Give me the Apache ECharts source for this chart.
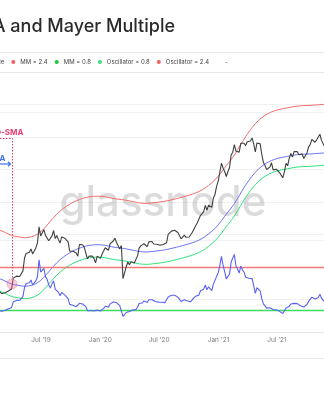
<!DOCTYPE html>
<html>
<head>
<meta charset="utf-8">
<script src="https://cdn.jsdelivr.net/npm/echarts@6/dist/echarts.min.js"></script>
<style>
  html, body { margin: 0; padding: 0; background: #fff; }
  #chart { width: 324px; height: 400px; }
</style>
</head>
<body>
<div id="chart"></div>
<script>
// ---- data: BTC daily close sampled every 5 days, and its 200-day SMA ----
const DAY = 86400000;
const startDate = Date.UTC(2019, 1, 20);
const stepDays = 5;

const btcPrice = [
  3950, 3830, 3820, 3870, 3880, 4000, 4000, 4030, 4150, 5050,
  5050, 5230, 5330, 5200, 5350, 5750, 7250, 7880, 7980, 8050,
  8550, 7800, 8050, 8700, 9530, 12700, 10800, 11000, 12100, 10900,
  10700, 9900, 9600, 10800, 11900, 10300, 10900, 10100, 9500, 10600,
  10400, 10350, 10200, 9700, 8200, 8250, 8200, 8300, 7950, 7500,
  9250, 9300, 9200, 8800, 8500, 7150, 7500, 7300, 7500, 7200,
  6650, 7500, 7250, 7200, 7770, 8050, 8730, 8650, 8340, 9350,
  9600, 9850, 10350, 9600, 9300, 8550, 9100, 5000, 5000, 6200,
  6750, 6420, 6780, 6860, 6640, 6880, 7540, 8660, 9030, 8750,
  9380, 9520, 8900, 9700, 9800, 9770, 9330, 9300, 9300, 9190,
  9130, 9240, 9250, 9200, 9550, 11100, 11230, 11770, 11570, 11950,
  11660, 11490, 11400, 10250, 10440, 10950, 10530, 10750, 10580, 10670,
  11550, 11370, 12990, 13650, 13740, 15590, 15700, 16720, 18700, 17150,
  18790, 19150, 18050, 21300, 22800, 26400, 29000, 33900, 40000, 36700,
  34500, 31500, 34300, 36900, 46400, 48800, 55900, 49700, 49600, 48900,
  57300, 56800, 57300, 55000, 58900, 58700, 59800, 63100, 56400, 49000,
  57700, 57200, 56700, 46800, 40600, 38400, 35700, 36900, 37300, 40500,
  35500, 34700, 35900, 35300, 33800, 32800, 30800, 34300, 40000, 38200,
  43800, 47800, 44700, 49300, 48900, 49300, 46700, 46000, 47300, 43600,
  42200, 48200, 53800, 56000, 61500, 60700, 58400, 61000, 61500, 67500,
  60400, 58600, 53600, 57000
];

const sma200 = [
  5020, 4980, 4920, 4860, 4790, 4720, 4650, 4590, 4540, 4500,
  4470, 4450, 4430, 4410, 4390, 4370, 4360, 4360, 4370, 4390,
  4420, 4460, 4510, 4570, 4640, 4730, 4840, 4970, 5120, 5290,
  5470, 5660, 5860, 6060, 6260, 6460, 6660, 6850, 7030, 7200,
  7370, 7530, 7680, 7830, 7970, 8100, 8230, 8350, 8460, 8560,
  8660, 8750, 8840, 8920, 8990, 9050, 9100, 9140, 9170, 9190,
  9200, 9210, 9210, 9200, 9180, 9150, 9110, 9060, 9000, 8940,
  8880, 8830, 8790, 8760, 8730, 8700, 8670, 8640, 8600, 8550,
  8500, 8450, 8400, 8350, 8300, 8250, 8200, 8160, 8130, 8110,
  8100, 8090, 8090, 8100, 8120, 8150, 8180, 8210, 8240, 8270,
  8300, 8330, 8370, 8410, 8450, 8500, 8560, 8620, 8680, 8740,
  8800, 8860, 8930, 9000, 9070, 9140, 9220, 9300, 9380, 9460,
  9550, 9650, 9760, 9880, 10010, 10150, 10310, 10490, 10700, 10930,
  11180, 11450, 11730, 12030, 12370, 12750, 13180, 13660, 14200, 14780,
  15380, 15980, 16570, 17180, 17830, 18550, 19350, 20250, 21250, 22300,
  23400, 24550, 25750, 26950, 28150, 29350, 30550, 31750, 32900, 34000,
  35050, 36050, 37000, 37900, 38750, 39500, 40200, 40850, 41450, 42000,
  42500, 42950, 43350, 43700, 44000, 44300, 44550, 44800, 45050, 45300,
  45550, 45800, 46050, 46300, 46500, 46700, 46850, 46950, 47050, 47100,
  47150, 47200, 47250, 47300, 47400, 47500, 47600, 47700, 47800, 47900,
  48000, 48100, 48200, 48300
];

// Mayer Multiple band multipliers and oscillator reference levels
const mmUpper = 2.4;
const mmLower = 0.8;
const oscLevels = [0.8, 2.4];

// x-axis tick labels (half-year marks)
const tickMonthNames = { 0: 'Jan', 6: 'Jul' };

const legendNames = ['Mayer Multiple', 'MM = 2.4', 'MM = 0.8', 'Oscillator = 0.8', 'Oscillator = 2.4', '-'];
const titleText = 'Price, 200D-SMA and Mayer Multiple';

// ---- derived series ----
const dates = btcPrice.map((_, i) => startDate + i * stepDays * DAY);
const priceData = dates.map((t, i) => [t, btcPrice[i]]);
const smaData = dates.map((t, i) => [t, sma200[i]]);
const upperData = dates.map((t, i) => [t, sma200[i] * mmUpper]);
const lowerData = dates.map((t, i) => [t, sma200[i] * mmLower]);
// Mayer Multiple = price / 200-day SMA
const mmData = dates.map((t, i) => [t, btcPrice[i] / sma200[i]]);
const tFirst = dates[0], tLast = dates[dates.length - 1];

// visible time window
const xMin = Date.UTC(2019, 1, 24);
const xMax = Date.UTC(2021, 10, 23, 17);

const oscMax = 9.674;

function measure(str, font) {
  const ctx = document.createElement('canvas').getContext('2d');
  ctx.font = font;
  return ctx.measureText(str).width;
}
const legendFontSize = 6;
const legendGap = 7;
const firstW = measure(legendNames[0], legendFontSize + 'px Inter');
const legendLeft = 11.3 - legendGap - 9 - firstW;

const chart = echarts.init(document.getElementById('chart'));

const lineBase = { type: 'line', showSymbol: false, symbol: 'none', animation: false };

chart.setOption({
  animation: false,
  useUTC: true,
  backgroundColor: '#ffffff',
  textStyle: { fontFamily: 'Inter, "Noto Sans", sans-serif' },
  title: {
    text: titleText,
    right: 149,
    top: 18,
    padding: 0,
    textStyle: { fontSize: 18, fontWeight: 500, color: '#2b2b2b', fontFamily: 'Inter' }
  },
  legend: {
    data: legendNames,
    left: legendLeft,
    top: 59,
    padding: 0,
    icon: 'circle',
    itemWidth: 4,
    itemHeight: 4,
    itemGap: legendGap,
    textStyle: { fontSize: legendFontSize, color: '#444', fontFamily: 'Inter' }
  },
  grid: { left: 0, right: 0, top: 72, bottom: 68 },
  xAxis: {
    type: 'time',
    min: xMin,
    max: xMax,
    splitNumber: 6,
    axisLine: { lineStyle: { color: '#e4e4e4', width: 1 } },
    axisTick: { show: false },
    splitLine: { show: false },
    axisLabel: {
      fontSize: 6.5,
      color: '#7d7d7d',
      margin: 5,
      fontFamily: 'Inter',
      formatter: function (v) {
        const d = new Date(v);
        const name = tickMonthNames[d.getUTCMonth()];
        if (!name || d.getUTCDate() !== 1) return '';
        return name + " '" + String(d.getUTCFullYear()).slice(2);
      }
    }
  },
  yAxis: [
    {
      type: 'log',
      logBase: 10,
      min: 1912,
      max: 207100,
      axisLine: { show: false },
      axisTick: { show: false },
      axisLabel: { show: false },
      splitLine: { lineStyle: { color: '#f1f1f1', width: 1 } }
    },
    {
      type: 'value',
      min: 0,
      max: oscMax,
      interval: oscMax / 8,
      position: 'right',
      axisLine: { show: false },
      axisTick: { show: false },
      axisLabel: { show: false },
      splitLine: { lineStyle: { color: '#f1f1f1', width: 1 } }
    }
  ],
  series: [
    Object.assign({}, lineBase, { name: 'MM = 2.4', yAxisIndex: 0, data: upperData,
      lineStyle: { color: '#f06d6d', width: 1 }, itemStyle: { color: '#f06060' }, z: 3 }),
    Object.assign({}, lineBase, { name: 'MM = 0.8', yAxisIndex: 0, data: lowerData,
      lineStyle: { color: '#2fe27c', width: 1 }, itemStyle: { color: '#18c83a' }, z: 3 }),
    Object.assign({}, lineBase, { name: '200D-SMA', yAxisIndex: 0, data: smaData,
      lineStyle: { color: '#6a72f4', width: 1 }, itemStyle: { color: '#6a72f4' }, z: 3 }),
    Object.assign({}, lineBase, { name: 'Price', yAxisIndex: 0, data: priceData,
      lineStyle: { color: '#404040', width: 1.1 }, itemStyle: { color: '#404040' }, z: 4 }),
    Object.assign({}, lineBase, { name: 'Oscillator = 0.8', yAxisIndex: 1,
      data: [[tFirst, oscLevels[0]], [tLast, oscLevels[0]]],
      lineStyle: { color: '#3ddc5e', width: 1.5 }, itemStyle: { color: '#33e07a' }, z: 3 }),
    Object.assign({}, lineBase, { name: 'Oscillator = 2.4', yAxisIndex: 1,
      data: [[tFirst, oscLevels[1]], [tLast, oscLevels[1]]],
      lineStyle: { color: '#f27a7a', width: 1.5 }, itemStyle: { color: '#f06060' }, z: 3 }),
    Object.assign({}, lineBase, { name: 'Mayer Multiple', yAxisIndex: 1, data: mmData,
      lineStyle: { color: '#5862f2', width: 1.1 }, itemStyle: { color: '#5862f2' }, z: 4 }),
    Object.assign({}, lineBase, { name: '-', yAxisIndex: 1, data: [],
      lineStyle: { color: 'rgba(0,0,0,0)' }, itemStyle: { color: 'rgba(0,0,0,0)' } })
  ]
});

// ---- annotations and decoration ----
const cross = chart.convertToPixel({ xAxisIndex: 0, yAxisIndex: 0 }, [Date.UTC(2019, 3, 2), 4550]);
const pink = '#ea3c72';
const blue = '#3f72ee';

chart.setOption({
  graphic: [
    { type: 'line', silent: true, z: 1, shape: { x1: 0, y1: 52.5, x2: 324, y2: 52.5 }, style: { stroke: '#e8e8e8', lineWidth: 1 } },
    { type: 'line', silent: true, z: 1, shape: { x1: 0, y1: 72.5, x2: 324, y2: 72.5 }, style: { stroke: '#e8e8e8', lineWidth: 1 } },
    { type: 'line', silent: true, z: 1, shape: { x1: 0, y1: 358.5, x2: 324, y2: 358.5 }, style: { stroke: '#e8e8e8', lineWidth: 1 } },
    { type: 'text', silent: true, z: 0, x: 163, y: 203,
      style: { text: 'glassnode', font: '500 42px Inter', fill: 'rgba(0,0,0,0.14)', align: 'center', verticalAlign: 'middle' } },
    { type: 'text', silent: true, z: 10, x: 23.5, y: 132.5,
      style: { text: 'Price > 200D-SMA', font: 'bold 8px Inter', fill: pink, align: 'right', verticalAlign: 'middle' } },
    { type: 'polyline', silent: true, z: 10,
      shape: { points: [[0, 138.5], [Math.round(cross[0]) + 0.5, 138.5], [Math.round(cross[0]) + 0.5, cross[1] - 5]] },
      style: { stroke: pink, lineWidth: 1, lineDash: [1.5, 1.5], fill: null } },
    { type: 'circle', silent: true, z: 10, shape: { cx: cross[0], cy: cross[1], r: 5 },
      style: { fill: 'rgba(240,110,150,0.35)', stroke: 'rgba(234,60,114,0.6)', lineWidth: 1, lineDash: [1, 1] } },
    { type: 'text', silent: true, z: 10, x: 5.5, y: 158.5,
      style: { text: '200D-SMA', font: 'bold 8px Inter', fill: blue, align: 'right', verticalAlign: 'middle' } },
    { type: 'polyline', silent: true, z: 10, shape: { points: [[0, 164], [cross[0] - 1.5, 164]] },
      style: { stroke: blue, lineWidth: 1.2, fill: null } },
    { type: 'polyline', silent: true, z: 10,
      shape: { points: [[cross[0] - 4, 161.8], [cross[0] - 1.5, 164], [cross[0] - 4, 166.2]] },
      style: { stroke: blue, lineWidth: 1.2, fill: null } }
  ]
});
</script>
</body>
</html>
